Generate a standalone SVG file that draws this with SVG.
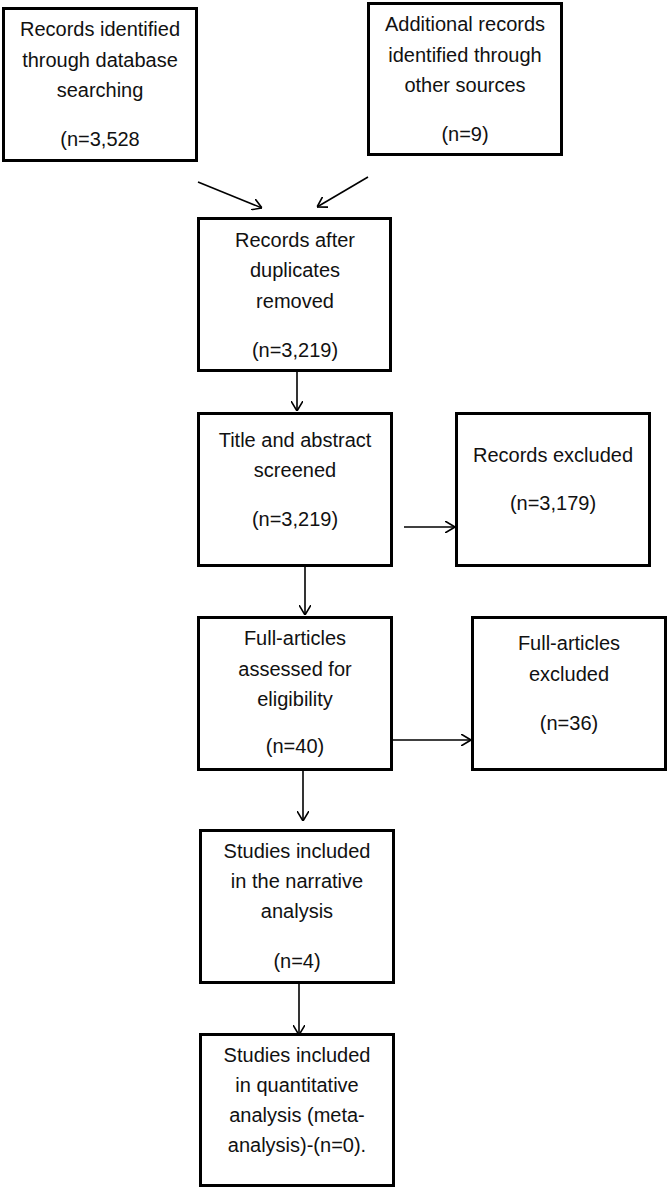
<svg xmlns="http://www.w3.org/2000/svg" width="669" height="1189" viewBox="0 0 669 1189">
<style>
.box{fill:#fff;stroke:#000;stroke-width:3}
.t{font-family:"Liberation Sans",Arial,sans-serif;font-size:20px;fill:#111;text-anchor:middle}
.c{stroke:#000;stroke-width:1.6;fill:none}
</style>
<defs>
<marker id="ah" viewBox="0 0 10 12" refX="10" refY="6" markerWidth="10" markerHeight="12" markerUnits="userSpaceOnUse" orient="auto">
<path d="M0,0 L10,6 L0,12" fill="none" stroke="#000" stroke-width="1.6"/>
</marker>
</defs>
<rect width="669" height="1189" fill="#fff"/>
<g id="connectors">
<line class="c" x1="198" y1="182" x2="262" y2="208" marker-end="url(#ah)"/>
<line class="c" x1="368" y1="177" x2="317" y2="207" marker-end="url(#ah)"/>
<line class="c" x1="297" y1="372" x2="297" y2="411" marker-end="url(#ah)"/>
<line class="c" x1="404" y1="527" x2="455" y2="527" marker-end="url(#ah)"/>
<line class="c" x1="305" y1="567" x2="305" y2="615" marker-end="url(#ah)"/>
<line class="c" x1="393" y1="740" x2="471" y2="740" marker-end="url(#ah)"/>
<line class="c" x1="303" y1="771" x2="303" y2="821" marker-end="url(#ah)"/>
<line class="c" x1="299" y1="983" x2="299" y2="1035" marker-end="url(#ah)"/>
</g>
<g id="n1">
<rect class="box" x="3.5" y="8.5" width="193" height="152"/>
<text class="t" x="100" y="36">Records identified</text>
<text class="t" x="100" y="66.5">through database</text>
<text class="t" x="100" y="96.5">searching</text>
<text class="t" x="100" y="146">(n=3,528</text>
</g>
<g id="n2">
<rect class="box" x="368.5" y="3.5" width="193" height="151"/>
<text class="t" x="465" y="31">Additional records</text>
<text class="t" x="465" y="61.5">identified through</text>
<text class="t" x="465" y="91.5">other sources</text>
<text class="t" x="465" y="140.5">(n=9)</text>
</g>
<g id="n3">
<rect class="box" x="198.5" y="218.5" width="192" height="152"/>
<text class="t" x="295" y="246.5">Records after</text>
<text class="t" x="295" y="277">duplicates</text>
<text class="t" x="295" y="308">removed</text>
<text class="t" x="295" y="356.5">(n=3,219)</text>
</g>
<g id="n4">
<rect class="box" x="198.5" y="413.5" width="193" height="152"/>
<text class="t" x="295" y="446.5">Title and abstract</text>
<text class="t" x="295" y="476.5">screened</text>
<text class="t" x="295" y="526">(n=3,219)</text>
</g>
<g id="n5">
<rect class="box" x="456.5" y="413.5" width="193" height="152"/>
<text class="t" x="553" y="461.5">Records excluded</text>
<text class="t" x="553" y="510">(n=3,179)</text>
</g>
<g id="n6">
<rect class="box" x="198.5" y="617.5" width="193" height="152"/>
<text class="t" x="295" y="645">Full-articles</text>
<text class="t" x="295" y="676">assessed for</text>
<text class="t" x="295" y="706">eligibility</text>
<text class="t" x="295" y="753">(n=40)</text>
</g>
<g id="n7">
<rect class="box" x="472.5" y="617.5" width="193" height="152"/>
<text class="t" x="569" y="650">Full-articles</text>
<text class="t" x="569" y="680.5">excluded</text>
<text class="t" x="569" y="730">(n=36)</text>
</g>
<g id="n8">
<rect class="box" x="200.5" y="830.5" width="193" height="152"/>
<text class="t" x="297" y="858">Studies included</text>
<text class="t" x="297" y="888">in the narrative</text>
<text class="t" x="297" y="918">analysis</text>
<text class="t" x="297" y="968">(n=4)</text>
</g>
<g id="n9">
<rect class="box" x="200.5" y="1034.5" width="193" height="151"/>
<text class="t" x="297" y="1061.5">Studies included</text>
<text class="t" x="297" y="1091.5">in quantitative</text>
<text class="t" x="297" y="1121.5">analysis (meta-</text>
<text class="t" x="297" y="1151.5">analysis)-(n=0).</text>
</g>
</svg>
